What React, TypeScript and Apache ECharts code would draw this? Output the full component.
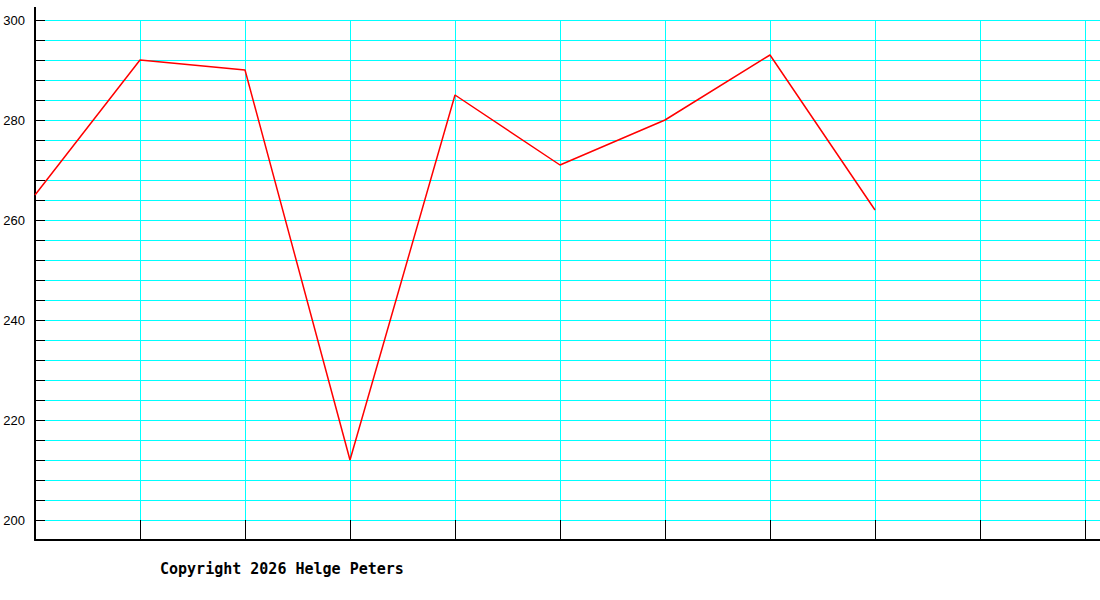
import React, { useEffect, useRef } from "react";
import * as echarts from "echarts";

// readings per slot, x index 0..8 (slots 9 and 10 are empty)
const readings = [265, 292, 290, 212, 285, 271, 280, 293, 262];
const yLabels = [200, 220, 240, 260, 280, 300];
const yMin = 196;
const yMax = 300;
const yStep = 4;
const xSlots = 10;
const copyright = "Copyright 2026 Helge Peters";

const App: React.FC = () => {
  const chartRef = useRef<HTMLDivElement>(null);

  useEffect(() => {
    if (!chartRef.current) return;
    const chart = echarts.init(chartRef.current, undefined, { renderer: "svg" });

    const data = readings.map((v, i) => [i, v]);

    const option = {
      animation: false,
      backgroundColor: "#fff",
      title: {
        text: copyright,
        left: 160,
        top: 561,
        padding: 0,
        textStyle: {
          fontFamily: "DejaVu Sans Mono",
          fontSize: 15,
          fontWeight: "bold",
          color: "#000",
        },
      },
      grid: { left: 35, right: 0, top: 20, bottom: 60, containLabel: false },
      xAxis: {
        type: "value",
        min: 0,
        // axis runs on a little past the last slot, to the edge
        max: xSlots + 15 / 105,
        interval: 1,
        axisLine: { show: true, lineStyle: { color: "#000", width: 2 } },
        axisTick: { show: true, inside: true, length: 20, lineStyle: { color: "#000", width: 1 } },
        axisLabel: { show: false },
        splitLine: { show: true, lineStyle: { color: "#00ffff", width: 1 } },
      },
      yAxis: {
        type: "value",
        min: yMin,
        max: yMax,
        interval: yStep,
        axisLine: {
          show: true,
          symbol: ["none", "rect"],
          symbolSize: [2, 26],
          lineStyle: { color: "#000", width: 2 },
        },
        axisTick: { show: true, inside: true, length: 10, lineStyle: { color: "#000", width: 1 } },
        axisLabel: {
          margin: 10,
          fontFamily: "Liberation Sans",
          fontSize: 13,
          color: "#000",
          padding: [3, 0, 0, 0],
          formatter: (v: number) => (yLabels.includes(v) ? String(v) : ""),
        },
        splitLine: { show: true, lineStyle: { color: "#00ffff", width: 1 } },
      },
      series: [
        {
          type: "line",
          data,
          showSymbol: false,
          lineStyle: { color: "#ff0000", width: 1.5 },
          z: 5,
        },
      ],
    };

    chart.setOption(option);

    return () => {
      chart.dispose();
    };
  }, []);

  return (
    <div
      ref={chartRef}
      style={{ position: "absolute", left: 0, top: 0, width: "1100px", height: "600px" }}
    />
  );
};

export default App;
